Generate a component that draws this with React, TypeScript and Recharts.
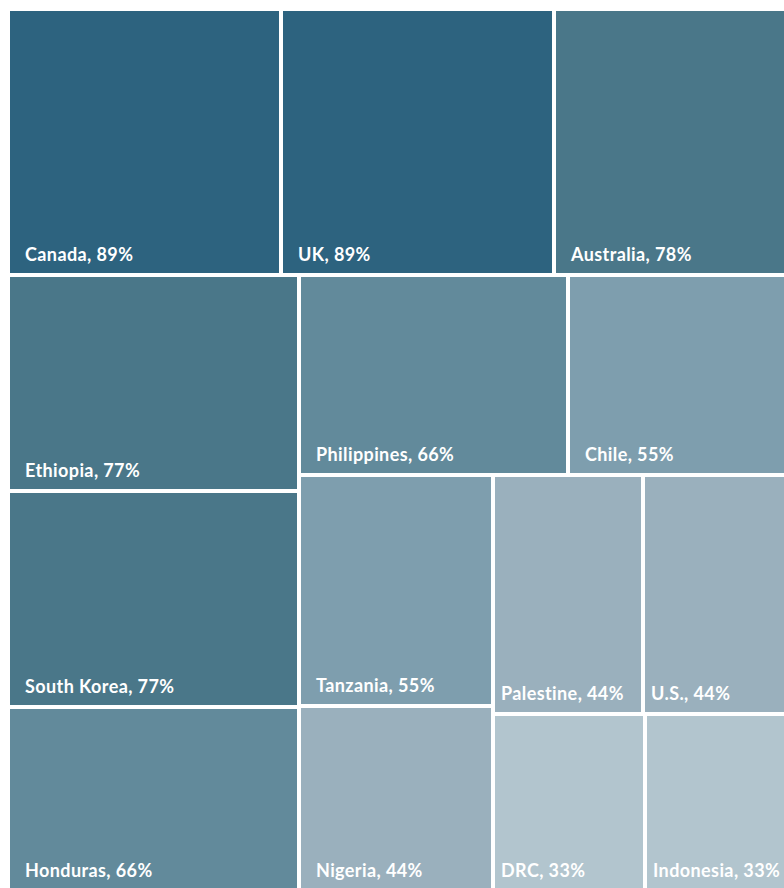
import { Treemap } from 'recharts';

const countries = [
  'Canada', 'UK', 'Australia', 'Ethiopia', 'South Korea', 'Honduras', 'Philippines',
  'Chile', 'Tanzania', 'Nigeria', 'Palestine', 'U.S.', 'DRC', 'Indonesia',
];
const shares = [89, 89, 78, 77, 77, 66, 66, 55, 55, 44, 44, 44, 33, 33];

// colour by share level
const SHADES: Record<number, string> = {
  89: '#2d637f', 78: '#4a7789', 77: '#4a7789', 66: '#628a9b',
  55: '#7e9eae', 44: '#9ab0bd', 33: '#b2c5ce',
};

const data = countries.map((name, i) => ({ name, value: shares[i] }));

function Cell(props: any) {
  const { x, y, width, height, depth, name, value } = props;
  if (depth === 0 || width == null) return null;
  const pad = width > 180 ? 17 : 8;
  return (
    <g>
      <rect x={x + 2} y={y + 2} width={Math.max(0, width - 4)} height={Math.max(0, height - 4)}
        fill={SHADES[value] || '#9ab0bd'} stroke="none" />
      <text x={x + pad} y={y + height - 14} fill="#fff" fontSize={18} fontWeight={700}
        letterSpacing={0.4} fontFamily="Lato, sans-serif">
        {name}, {value}%
      </text>
    </g>
  );
}

export default function App() {
  return (
    <div style={{ padding: '9px 0 0 8px', width: 800 }}>
      <style>{'html,body{overflow:hidden}body{margin:0}#root{overflow:visible}'}</style>
      <Treemap
        width={785}
        height={882}
        data={data}
        dataKey="value"
        nameKey="name"
        aspectRatio={1.1}
        isAnimationActive={false}
        content={<Cell />}
      />
    </div>
  );
}
